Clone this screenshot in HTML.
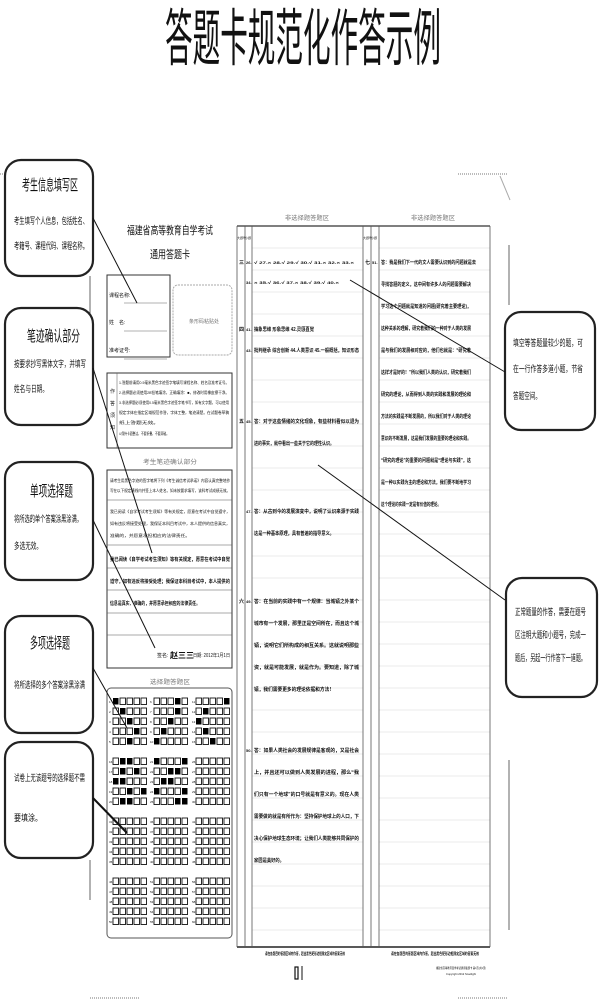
<!DOCTYPE html>
<html><head><meta charset="utf-8"><style>
html,body{margin:0;padding:0;background:#fff;width:600px;height:1000px;overflow:hidden}
svg{display:block}
text{font-family:"Liberation Sans","Noto Sans CJK SC","WenQuanYi Zen Hei",sans-serif;fill:#111}
.g{fill:#777}
.h{font-family:"Liberation Serif","Noto Serif CJK SC",serif;fill:#111;font-weight:bold}
.c{fill:#000}
</style></head><body>
<svg width="600" height="1000" viewBox="0 0 600 1000" xmlns="http://www.w3.org/2000/svg">
<text x="165" y="60" font-size="62" fill="#000" textLength="276" lengthAdjust="spacingAndGlyphs">答题卡规范化作答示例</text>

<g stroke="#777" stroke-width="1" stroke-dasharray="1,1">
<line x1="0" y1="174" x2="40" y2="174"/><line x1="458" y1="174" x2="508" y2="174"/>
<line x1="90" y1="998" x2="140" y2="998"/><line x1="458" y1="998" x2="508" y2="998"/>
</g>
<line x1="500" y1="176" x2="510" y2="200" stroke="#aaa"/>
<line x1="509" y1="245" x2="509" y2="305" stroke="#666"/>
<line x1="509" y1="760" x2="509" y2="930" stroke="#666"/>
<line x1="90" y1="276" x2="90" y2="390" stroke="#666"/>
<line x1="90" y1="860" x2="90" y2="900" stroke="#666"/>

<g fill="#fff" stroke="#222" stroke-width="2.2">
<rect x="5" y="160" width="88" height="116" rx="16"/>
<rect x="5" y="308" width="88" height="117" rx="16"/>
<rect x="5" y="462" width="88" height="118" rx="16"/>
<rect x="5" y="616" width="88" height="117" rx="16"/>
<rect x="5" y="742" width="88" height="116" rx="16"/>
<rect x="505" y="312" width="90" height="118" rx="16"/>
<rect x="506" y="578" width="91" height="119" rx="16"/>
</g>
<g class="c">
<text x="22" y="190" font-size="15" textLength="56" lengthAdjust="spacingAndGlyphs">考生信息填写区</text>
<text x="14" y="224" font-size="9" textLength="74" lengthAdjust="spacingAndGlyphs">考生填写个人信息，包括姓名、</text>
<text x="14" y="249" font-size="9" textLength="74" lengthAdjust="spacingAndGlyphs">考籍号、课程代码、课程名称。</text>
<text x="27" y="341" font-size="15" textLength="53" lengthAdjust="spacingAndGlyphs">笔迹确认部分</text>
<text x="14" y="367" font-size="9" textLength="72" lengthAdjust="spacingAndGlyphs">按要求抄写黑体文字，并填写</text>
<text x="14" y="392" font-size="9" textLength="34" lengthAdjust="spacingAndGlyphs">姓名与日期。</text>
<text x="30" y="496" font-size="15" textLength="43" lengthAdjust="spacingAndGlyphs">单项选择题</text>
<text x="14" y="522" font-size="9" textLength="68" lengthAdjust="spacingAndGlyphs">将所选的单个答案涂黑涂满，</text>
<text x="14" y="549" font-size="9" textLength="28" lengthAdjust="spacingAndGlyphs">多选无效。</text>
<text x="30" y="648" font-size="15" textLength="40" lengthAdjust="spacingAndGlyphs">多项选择题</text>
<text x="14" y="688" font-size="9" textLength="71" lengthAdjust="spacingAndGlyphs">将所选择的多个答案涂黑涂满</text>
<text x="14" y="781" font-size="9" textLength="71" lengthAdjust="spacingAndGlyphs">试卷上无该题号的选择题不需</text>
<text x="14" y="821" font-size="9" textLength="28" lengthAdjust="spacingAndGlyphs">要填涂。</text>
<text x="513" y="346" font-size="9" textLength="70" lengthAdjust="spacingAndGlyphs">填空等答题量较少的题，可</text>
<text x="513" y="372" font-size="9" textLength="70" lengthAdjust="spacingAndGlyphs">在一行作答多道小题，节省</text>
<text x="513" y="399" font-size="9" textLength="28" lengthAdjust="spacingAndGlyphs">答题空间。</text>
<text x="515" y="615" font-size="9" textLength="71" lengthAdjust="spacingAndGlyphs">正常题量的作答，需要在题号</text>
<text x="515" y="638" font-size="9" textLength="71" lengthAdjust="spacingAndGlyphs">区注明大题和小题号，完成一</text>
<text x="515" y="661" font-size="9" textLength="71" lengthAdjust="spacingAndGlyphs">题后，另起一行作答下一道题。</text>
</g>

<text x="127" y="234" font-size="11" textLength="86" lengthAdjust="spacingAndGlyphs">福建省高等教育自学考试</text>
<text x="150" y="258" font-size="11" textLength="40" lengthAdjust="spacingAndGlyphs">通用答题卡</text>
<rect x="107" y="275" width="63" height="82" fill="none" stroke="#333"/>
<text x="109" y="297" font-size="5">课程名称:</text>
<text x="109" y="324" font-size="5">姓　名:</text>
<text x="109" y="352" font-size="5">准考证号:</text>
<g stroke="#999" stroke-width=".7"><line x1="124" y1="303" x2="167" y2="303"/><line x1="124" y1="331" x2="167" y2="331"/><line x1="124" y1="359" x2="167" y2="359"/></g>
<rect x="173" y="285" width="59" height="70" rx="5" fill="none" stroke="#aaa" stroke-dasharray="2,1"/>
<text x="189" y="323" font-size="5" class="g">条形码粘贴处</text>
<rect x="107" y="373" width="125" height="75" fill="none" stroke="#333"/>
<line x1="117" y1="373" x2="117" y2="448" stroke="#555" stroke-width=".5"/>
<text x="110" y="393" font-size="5">作</text><text x="110" y="405" font-size="5">答</text><text x="110" y="417" font-size="5">须</text><text x="110" y="429" font-size="5">知</text>
<g font-size="4" fill="#333">
<text x="119" y="384" textLength="110" lengthAdjust="spacingAndGlyphs">1.答题前请用0.5毫米黑色字迹签字笔填写课程名称、姓名及准考证号。</text>
<text x="119" y="394" textLength="110" lengthAdjust="spacingAndGlyphs">2.选择题必须使用2B铅笔填涂，正确填涂：■，修改时用橡皮擦干净。</text>
<text x="119" y="404" textLength="110" lengthAdjust="spacingAndGlyphs">3.非选择题必须使用0.5毫米黑色字迹签字笔书写，如有文字题，可以使用</text>
<text x="119" y="414" textLength="110" lengthAdjust="spacingAndGlyphs">规定字体在指定区域规范作答，字体工整，笔迹清楚。在试题卷草稿</text>
<text x="119" y="424" textLength="40" lengthAdjust="spacingAndGlyphs">纸上答题无效。</text>
<text x="119" y="435" textLength="50" lengthAdjust="spacingAndGlyphs">4.保持卡面整洁，不要折叠，不要弄破。</text>
</g>
<text x="143" y="464" font-size="6" class="g" textLength="54" lengthAdjust="spacingAndGlyphs">考生笔迹确认部分</text>
<rect x="107" y="470" width="125" height="198" fill="none" stroke="#333"/>
<g stroke="#555" stroke-width=".6"><line x1="107" y1="500" x2="232" y2="500"/><line x1="107" y1="545" x2="232" y2="545"/><line x1="107" y1="568" x2="232" y2="568"/><line x1="107" y1="590" x2="232" y2="590"/><line x1="107" y1="613" x2="232" y2="613"/><line x1="107" y1="635" x2="232" y2="635"/></g>
<g font-size="4" fill="#333">
<text x="110" y="482" textLength="120" lengthAdjust="spacingAndGlyphs">请考生用黑色字迹的签字笔将下列《考生诚信考试承诺》内容认真完整地抄</text>
<text x="110" y="492" textLength="120" lengthAdjust="spacingAndGlyphs">写在以下规定横线内并签上本人姓名。如未按要求填写，该科考试成绩无效。</text>
<text x="110" y="513" textLength="120" lengthAdjust="spacingAndGlyphs">我已阅读《自学考试考生须知》等有关规定，愿意在考试中自觉遵守，</text>
<text x="110" y="525" textLength="120" lengthAdjust="spacingAndGlyphs">如有违反将接受处理，我保证本科目考试中，本人提供的信息真实，</text>
<text x="110" y="537" textLength="80" lengthAdjust="spacingAndGlyphs">准确的，并愿意承担相应的法律责任。</text>
</g>
<g font-size="5" class="h">
<text x="110" y="561" textLength="120" lengthAdjust="spacingAndGlyphs">我已阅读《自学考试考生须知》等有关规定，愿意在考试中自觉</text>
<text x="110" y="583" textLength="120" lengthAdjust="spacingAndGlyphs">遵守，如有违反将接受处理；我保证本科目考试中，本人提供的</text>
<text x="110" y="605" textLength="90" lengthAdjust="spacingAndGlyphs">信息是真实、准确的，并愿意承担相应的法律责任。</text>
</g>
<text x="157" y="657" font-size="5">签名:</text><text x="170" y="658" font-size="8" font-weight="bold">赵三三</text>
<text x="193" y="657" font-size="5" textLength="37" lengthAdjust="spacingAndGlyphs">日期: 2012年1月1日</text>
<text x="150" y="684" font-size="6" class="g" textLength="40" lengthAdjust="spacingAndGlyphs">选择题答题区</text>
<rect x="107" y="688" width="125" height="250" rx="4" fill="none" stroke="#555"/>
<g id="grid"></g>

<text x="285" y="220" font-size="6" class="g" textLength="44" lengthAdjust="spacingAndGlyphs">非选择题答题区</text>
<text x="411" y="220" font-size="6" class="g" textLength="44" lengthAdjust="spacingAndGlyphs">非选择题答题区</text>
<g stroke="#e4e4e4" stroke-width=".8" id="rules"></g>
<line x1="237" y1="226" x2="490" y2="226" stroke="#333" stroke-width="1.2"/>
<line x1="237" y1="947" x2="490" y2="947" stroke="#222" stroke-width="1.5"/>
<g stroke="#555" stroke-width=".8">
<line x1="237" y1="226" x2="237" y2="947"/><line x1="245" y1="226" x2="245" y2="947"/><line x1="252" y1="226" x2="252" y2="947"/>
<line x1="363" y1="226" x2="363" y2="947"/><line x1="371" y1="226" x2="371" y2="947"/><line x1="379" y1="226" x2="379" y2="947"/>
<line x1="490" y1="226" x2="490" y2="947"/>
</g>
<g font-size="3"><text x="237" y="239">大题号</text><text x="245" y="239">小题</text><text x="363" y="239">大题号</text><text x="371" y="239">小题</text></g>
<g font-size="5" class="h">
<text x="239" y="264">三</text><text x="246" y="264" font-size="4">26.</text>
<text x="254" y="264" font-size="4" textLength="100" lengthAdjust="spacingAndGlyphs">√   27.×   28.√   29.√   30.√   31.×   32.×   33.×</text>
<text x="246" y="284" font-size="4">34.</text>
<text x="254" y="284" font-size="4" textLength="85" lengthAdjust="spacingAndGlyphs">×   35.√   36.√   37.×   38.√   39.√   40.×</text>
<text x="239" y="331">四</text><text x="246" y="331" font-size="4">41.</text>
<text x="254" y="331" textLength="60" lengthAdjust="spacingAndGlyphs">抽象思维 形象思维 42.灵感直觉</text>
<text x="246" y="352" font-size="4">43.</text>
<text x="254" y="352" textLength="105" lengthAdjust="spacingAndGlyphs">批判继承 综合创新 44.人类意识 45.一般概括，知识形态</text>
<text x="239" y="423">五</text><text x="246" y="423" font-size="4">45.</text>
<text x="254" y="423" textLength="105" lengthAdjust="spacingAndGlyphs">答：对于这些情绪的文化现象，有些材料看似以退为</text>
<text x="254" y="445" textLength="80" lengthAdjust="spacingAndGlyphs">进的事实，就中看出一些关于它的理性认识。</text>
<text x="246" y="513" font-size="4">47.</text>
<text x="254" y="513" textLength="105" lengthAdjust="spacingAndGlyphs">答：从古到今的发展演变中，说明了认识来源于实践</text>
<text x="254" y="535" textLength="80" lengthAdjust="spacingAndGlyphs">这是一种基本原理，具有普遍的指导意义。</text>
<text x="239" y="603">六</text><text x="246" y="603" font-size="4">49.</text>
<text x="254" y="603" textLength="105" lengthAdjust="spacingAndGlyphs">答：在当前的实践中有一个规律：当城镇之外某个</text>
<text x="254" y="625" textLength="105" lengthAdjust="spacingAndGlyphs">城市有一个发展，那里正是空间所在，而且这个城</text>
<text x="254" y="647" textLength="105" lengthAdjust="spacingAndGlyphs">镇，说明它们所构成的相互关系。这就说明那些</text>
<text x="254" y="669" textLength="105" lengthAdjust="spacingAndGlyphs">资，就是可能发展，就是作为。要知道，除了城</text>
<text x="254" y="691" textLength="80" lengthAdjust="spacingAndGlyphs">镇，我们需要更多的理论依据和方法！</text>
<text x="246" y="752" font-size="4">50.</text>
<text x="254" y="752" textLength="105" lengthAdjust="spacingAndGlyphs">答：如果人类社会的发展规律是客观的，又是社会</text>
<text x="254" y="774" textLength="105" lengthAdjust="spacingAndGlyphs">上，并且还可以做到人类发展的进程，那么“我</text>
<text x="254" y="796" textLength="105" lengthAdjust="spacingAndGlyphs">们只有一个地球”的口号就是有意义的。现在人类</text>
<text x="254" y="818" textLength="105" lengthAdjust="spacingAndGlyphs">需要做的就是有所作为：坚持保护地球上的人口，下</text>
<text x="254" y="840" textLength="105" lengthAdjust="spacingAndGlyphs">决心保护地球生态环境；让我们人类能够共同保护的</text>
<text x="254" y="862" textLength="30" lengthAdjust="spacingAndGlyphs">家园是美好的。</text>
<text x="365" y="264">七</text><text x="372" y="264" font-size="4">51.</text>
<text x="381" y="264" textLength="95" lengthAdjust="spacingAndGlyphs">答：我是我们下一代的文人需要认识到的问题就是去</text>
<text x="381" y="286" textLength="90" lengthAdjust="spacingAndGlyphs">寻找答题的定义，这中间有许多人的问题需要解决</text>
<text x="381" y="308" textLength="90" lengthAdjust="spacingAndGlyphs">学习这个问题就是知道的问题(研究着主要理论)，</text>
<text x="381" y="330" textLength="90" lengthAdjust="spacingAndGlyphs">这种关系的理解，研究着我们的一种对于人类的发展</text>
<text x="381" y="352" textLength="90" lengthAdjust="spacingAndGlyphs">是与我们的发展相对应的，他们也就是：“研究着</text>
<text x="381" y="374" textLength="90" lengthAdjust="spacingAndGlyphs">这样才是好的！”所以我们人类的认识，研究着我们</text>
<text x="381" y="396" textLength="90" lengthAdjust="spacingAndGlyphs">研究的理论，从而得到人类的实践和发展的理论和</text>
<text x="381" y="418" textLength="90" lengthAdjust="spacingAndGlyphs">方法的实践是不断发展的，所以我们对于人类的理论</text>
<text x="381" y="440" textLength="90" lengthAdjust="spacingAndGlyphs">意识的不断发展，这是我们发展的重要的理论和实践。</text>
<text x="381" y="462" textLength="90" lengthAdjust="spacingAndGlyphs">“研究的理论”的重要的问题就是“理论与实践”，这</text>
<text x="381" y="484" textLength="90" lengthAdjust="spacingAndGlyphs">是一种以实践为主的理论和方法，我们要不断地学习</text>
<text x="381" y="506" textLength="60" lengthAdjust="spacingAndGlyphs">这个理论的实践一定是有价值的理论。</text>
</g>
<text x="265" y="955" font-size="4" font-weight="bold" textLength="80" lengthAdjust="spacingAndGlyphs">请在各题目的答题区域内作答，超出黑色矩形边框限定区域的答案无效</text>
<text x="391" y="955" font-size="4" font-weight="bold" textLength="88" lengthAdjust="spacingAndGlyphs">请在各题目的答题区域内作答，超出黑色矩形边框限定区域的答案无效</text>
<rect x="295" y="967" width="3" height="12" fill="none" stroke="#111" stroke-width="1.2"/>
<line x1="302" y1="966" x2="302" y2="980" stroke="#111"/>
<text x="436" y="969" font-size="3" fill="#555" textLength="50" lengthAdjust="spacingAndGlyphs">福建省高等教育自学考试通用答题卡 第1页(共1页)</text>
<text x="446" y="975" font-size="3" fill="#555" textLength="30" lengthAdjust="spacingAndGlyphs">Copyright 2012 Snaclight</text>

<g stroke="#111" stroke-width="1">
<line x1="93" y1="218" x2="137" y2="303"/>
<line x1="93" y1="368" x2="152" y2="553"/>
<line x1="93" y1="520" x2="155" y2="648"/>
<line x1="93" y1="668" x2="127" y2="728"/>
<line x1="93" y1="798" x2="127" y2="833" stroke-width="2"/>
<line x1="505" y1="372" x2="350" y2="280"/>
<line x1="505" y1="600" x2="318" y2="465"/>
</g>
</svg>
<script>
var ns="http://www.w3.org/2000/svg";
var r=document.getElementById('rules');
for(var y=248;y<947;y+=22){[[252,363],[379,490]].forEach(function(p){var l=document.createElementNS(ns,'line');l.setAttribute('x1',p[0]);l.setAttribute('x2',p[1]);l.setAttribute('y1',y);l.setAttribute('y2',y);r.appendChild(l);});}
var g=document.getElementById('grid');
var fills=[[[0],[1],[2],[3],[2]],[[3],[3],[2],[1],[0]],[[4],[1],[0],[1],[2]],
[[1,2],[1,3],[0,1],[2,4],[1,2]],[[0,4],[2,3],[1,2],[0,4],[3,4]],[[],[],[],[],[]]];
var cx=[113,154,196];
for(var grp=0;grp<4;grp++)for(var c=0;c<3;c++)for(var row=0;row<5;row++){
 var y=698+grp*60+row*10; var f=(grp<2)?fills[grp*3+c][row]:[];
 var t=document.createElementNS(ns,'text');t.setAttribute('x',cx[c]-4);t.setAttribute('y',y+5);t.setAttribute('font-size','3');t.textContent=grp*15+c*5+row+1;g.appendChild(t);
 for(var k=0;k<5;k++){var b=document.createElementNS(ns,'rect');b.setAttribute('x',cx[c]+k*7);b.setAttribute('y',y);b.setAttribute('width',5.5);b.setAttribute('height',6.5);
  if(f.indexOf(k)>=0){b.setAttribute('fill','#000');}else{b.setAttribute('fill','none');b.setAttribute('stroke','#111');b.setAttribute('stroke-width','.9');}
  g.appendChild(b);}
}
</script>
</body></html>
